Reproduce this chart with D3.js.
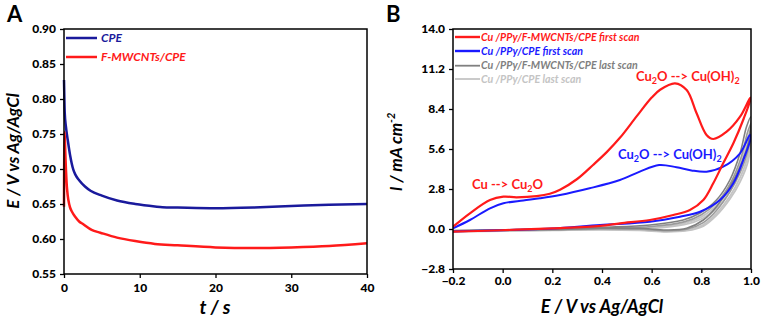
<!DOCTYPE html>
<html><head><meta charset="utf-8">
<script src="https://cdn.jsdelivr.net/npm/d3@7"></script>
<style>
body{margin:0;background:#fff}
svg text{font-family:Lato,"Open Sans",sans-serif}
</style></head><body>
<svg id="c" width="761" height="322"></svg>
<script>
// ---------- Panel A data ----------
const aTime = [0,0.05,0.1,0.26,0.5,0.8,1.23,1.5,2,2.77,3.5,5,7,9.4,12,13,15,20,25,30,35,40];
const aCPE =  [0.827,0.80,0.78,0.76,0.741,0.72,0.699,0.692,0.684,0.675,0.669,0.662,0.655,0.650,0.6465,0.6455,0.645,0.644,0.645,0.647,0.649,0.650];
const fTime = [0,0.03,0.08,0.15,0.26,0.4,0.57,0.8,1.0,1.45,2,2.55,3.65,4.8,7,9.4,12,15,20,25,30,35,40];
const aFMW =  [0.646,0.72,0.753,0.73,0.699,0.672,0.656,0.645,0.640,0.632,0.625,0.621,0.613,0.609,0.602,0.597,0.593,0.591,0.588,0.587,0.588,0.590,0.594];
const aXTicks = [0,10,20,30,40];
const aYTicks = [0.55,0.60,0.65,0.70,0.75,0.80,0.85,0.90];
const aLegend = ["CPE","F-MWCNTs/CPE"];

// ---------- Panel B data (E in V, I in mA cm-2) ----------
const redFirst = [[-0.2,-0.19],[-0.1,-0.14],[0.056,-0.05],[0.2,0.05],[0.392,0.22],[0.473,0.4],[0.593,0.63],[0.687,0.98],[0.754,1.33],[0.808,2.03],[0.848,3.2],[0.888,4.6],[0.929,6.0],[0.97,7.7],[1.0,9.2],
  [0.996,9.15],[0.956,7.86],[0.902,6.81],[0.848,6.3],[0.821,6.58],[0.781,8.1],[0.741,9.73],[0.694,10.2],[0.634,9.75],[0.6,9.2],[0.54,7.9],[0.473,6.4],[0.42,5.4],[0.365,4.5],[0.3,3.5],[0.231,2.75],[0.19,2.47],[0.137,2.3],[0.056,2.22],[0.003,2.26],[-0.051,2.03],[-0.132,1.1],[-0.2,0.16]];
const blueFirst = [[-0.2,-0.17],[-0.1,-0.13],[0.056,-0.06],[0.2,0.03],[0.392,0.28],[0.593,0.51],[0.714,0.86],[0.795,1.21],[0.875,2.03],[0.929,3.2],[0.969,4.83],[1.0,6.5],
  [0.996,6.58],[0.956,5.3],[0.888,4.36],[0.821,4.01],[0.76,4.1],[0.7,4.32],[0.63,4.48],[0.55,4.0],[0.472,3.43],[0.35,2.85],[0.231,2.38],[0.15,2.15],[0.083,2.0],[0.003,1.8],[-0.051,1.45],[-0.132,0.63],[-0.2,0.05]];
const grayLast1 = [[-0.2,-0.12],[0.0,-0.08],[0.2,-0.04],[0.392,0.05],[0.55,0.05],[0.66,-0.07],[0.741,0.05],[0.808,0.63],[0.861,1.56],[0.915,2.96],[0.956,4.36],[0.989,6.0],[1.0,7.86],
  [0.982,7.16],[0.956,5.3],[0.915,3.43],[0.861,2.03],[0.793,1.1],[0.727,0.63],[0.593,0.28],[0.4,0.12],[0.2,0.0],[0.0,-0.06],[-0.2,-0.1]];
const grayLast2 = [[-0.2,-0.14],[0.0,-0.1],[0.2,-0.06],[0.392,0.0],[0.55,-0.02],[0.66,-0.12],[0.741,-0.02],[0.808,0.45],[0.861,1.3],[0.915,2.6],[0.956,3.95],[0.989,5.6],[1.0,7.4],
  [0.985,6.7],[0.96,5.0],[0.92,3.3],[0.87,2.0],[0.8,1.0],[0.73,0.5],[0.6,0.18],[0.4,0.06],[0.2,-0.03],[0.0,-0.08],[-0.2,-0.12]];
const lightLast1 = [[-0.2,-0.16],[0.0,-0.12],[0.2,-0.08],[0.392,-0.03],[0.55,-0.06],[0.66,-0.16],[0.741,-0.08],[0.808,0.3],[0.861,1.1],[0.915,2.3],[0.956,3.6],[0.989,5.2],[1.0,7.0],
  [0.985,6.3],[0.96,4.7],[0.92,3.0],[0.87,1.8],[0.8,0.85],[0.73,0.4],[0.6,0.1],[0.4,0.0],[0.2,-0.05],[0.0,-0.1],[-0.2,-0.14]];
const lightLast2 = [[-0.2,-0.18],[0.0,-0.14],[0.2,-0.1],[0.392,-0.06],[0.55,-0.1],[0.66,-0.2],[0.741,-0.12],[0.808,0.2],[0.861,0.95],[0.915,2.1],[0.956,3.3],[0.989,4.8],[1.0,6.6],
  [0.985,5.9],[0.96,4.4],[0.92,2.8],[0.87,1.6],[0.8,0.7],[0.73,0.3],[0.6,0.04],[0.4,-0.04],[0.2,-0.08],[0.0,-0.12],[-0.2,-0.16]];
const bXTicks = [-0.2,0.0,0.2,0.4,0.6,0.8,1.0];
const bYTicks = [-2.8,0.0,2.8,5.6,8.4,11.2,14.0];
const bLegend = ["Cu /PPy/F-MWCNTs/CPE first scan","Cu /PPy/CPE first scan","Cu /PPy/F-MWCNTs/CPE last scan","Cu /PPy/CPE last scan"];

const svg = d3.select("#c");
const colA = ["#1a1a9c","#ff1a1a"];
const colB = ["#ff1a1a","#1a1aff","#808080","#c4c4c4"];

function frame(g, x, y, xt, yt, xfmt, yfmt, tickY){
  const [x0,x1] = x.range(), [y0,y1] = y.range();
  g.append("g").attr("transform",`translate(0,${y0})`)
    .call(d3.axisBottom(x).tickValues(xt).tickFormat(xfmt).tickSize(4).tickSizeOuter(0))
    .call(s=>{s.select(".domain").remove();s.selectAll("line").attr("stroke","#000").attr("stroke-width",1.3);
      s.selectAll("text").attr("font-size",12).attr("font-weight",900).attr("fill","#000").attr("dy",tickY);});
  g.append("g").attr("transform",`translate(${x0},0)`)
    .call(d3.axisLeft(y).tickValues(yt).tickFormat(yfmt).tickSize(4).tickSizeOuter(0))
    .call(s=>{s.select(".domain").remove();s.selectAll("line").attr("stroke","#000").attr("stroke-width",1.3);
      s.selectAll("text").attr("font-size",12).attr("font-weight",900).attr("fill","#000").attr("dx",-1);});
  g.append("rect").attr("x",x0).attr("y",y1).attr("width",x1-x0).attr("height",y0-y1)
    .attr("fill","none").attr("stroke","#000").attr("stroke-width",1.5);
}

// ---------- Panel A ----------
const xA = d3.scaleLinear().domain([0,40]).range([64,367]);
const yA = d3.scaleLinear().domain([0.55,0.90]).range([274,29]);
const gA = svg.append("g");
const lineA = d3.line().x(d=>xA(d[0])).y(d=>yA(d[1])).curve(d3.curveMonotoneX);
gA.append("path").datum(aTime.map((t,i)=>[t,aCPE[i]])).attr("d",lineA)
  .attr("fill","none").attr("stroke",colA[0]).attr("stroke-width",2.5);
gA.append("path").datum(fTime.map((t,i)=>[t,aFMW[i]])).attr("d",d3.line().x(d=>xA(d[0])).y(d=>yA(d[1])).curve(d3.curveCatmullRom))
  .attr("fill","none").attr("stroke",colA[1]).attr("stroke-width",2.5);
frame(gA,xA,yA,aXTicks,aYTicks,d3.format("d"),d3.format(".2f"),"0.9em");
aLegend.forEach((t,i)=>{
  const yy = 38 + i*19;
  gA.append("line").attr("x1",66).attr("x2",97).attr("y1",yy).attr("y2",yy).attr("stroke",colA[i]).attr("stroke-width",2.5);
  gA.append("text").attr("x",101).attr("y",yy+4).text(t).attr("fill",colA[i])
    .attr("font-size",12).attr("font-weight","bold").attr("font-style","italic");
});
gA.append("text").attr("x",215).attr("y",314).attr("text-anchor","middle").text("t / s")
  .attr("font-size",19).attr("font-weight","bold").attr("font-style","italic");
gA.append("text").attr("transform","translate(19,151) rotate(-90)").attr("text-anchor","middle").text("E / V vs Ag/AgCl")
  .attr("font-size",17).attr("font-weight","bold").attr("font-style","italic");
gA.append("text").attr("x",7).attr("y",22).text("A").attr("font-size",22).attr("font-weight","bold").attr("font-family","'Open Sans',sans-serif");

// ---------- Panel B ----------
const xB = d3.scaleLinear().domain([-0.2,1.0]).range([453,751]);
const yB = d3.scaleLinear().domain([-2.8,14.0]).range([269,29]);
const gB = svg.append("g");
const lineB = d3.line().x(d=>xB(d[0])).y(d=>yB(d[1])).curve(d3.curveCatmullRom.alpha(0.5));
const bSeries = [[lightLast2,colB[3],1.8],[lightLast1,colB[3],1.8],[grayLast2,"#9a9a9a",1.6],[grayLast1,colB[2],1.6],[blueFirst,colB[1],2],[redFirst,colB[0],2.2]];
gB.append("clipPath").attr("id","clipB").append("rect").attr("x",453).attr("y",29).attr("width",298).attr("height",240);
bSeries.forEach(s=>{
  gB.append("path").datum(s[0]).attr("d",lineB).attr("clip-path","url(#clipB)")
    .attr("fill","none").attr("stroke",s[1]).attr("stroke-width",s[2]);
});
frame(gB,xB,yB,bXTicks,bYTicks,d3.format(".1f"),d3.format(".1f"),"0.75em");
bLegend.forEach((t,i)=>{
  const yy = [37,51,65.7,79][i];
  gB.append("line").attr("x1",455).attr("x2",480).attr("y1",yy).attr("y2",yy).attr("stroke",colB[i]).attr("stroke-width",i<2?2.4:1.8);
  gB.append("text").attr("x",481).attr("y",yy+3.7).text(t).attr("fill",colB[i])
    .attr("font-size",10.6).attr("font-weight","bold").attr("font-style","italic");
});
function ann(x,y,parts,col){
  const t = gB.append("text").attr("x",x).attr("y",y).attr("fill",col).attr("font-size",13).attr("font-weight","bold");
  parts.forEach(p=>{
    if(p[1]) t.append("tspan").text(p[0]).attr("font-size",9).attr("dy",3);
    else t.append("tspan").text(p[0]).attr("dy",p[2]||0);
  });
}
ann(636,81,[["Cu"],["2",1],["O --> Cu(OH)",0,-3],["2",1]],colB[0]);
ann(618,159,[["Cu"],["2",1],["O --> Cu(OH)",0,-3],["2",1]],colB[1]);
ann(472,189,[["Cu --> Cu"],["2",1],["O",0,-3]],colB[0]);
gB.append("text").attr("x",602).attr("y",313).attr("text-anchor","middle").text("E / V vs Ag/AgCl")
  .attr("font-size",18).attr("font-weight","bold").attr("font-style","italic");
const yt = gB.append("text").attr("transform","translate(402,152) rotate(-90)").attr("text-anchor","middle")
  .attr("font-size",17).attr("font-weight","bold").attr("font-style","italic");
yt.append("tspan").text("I / mA cm");
yt.append("tspan").text("-2").attr("font-size",11).attr("dy",-7);
gB.append("text").attr("x",386).attr("y",22).text("B").attr("font-size",22).attr("font-weight","bold").attr("font-family","'Open Sans',sans-serif");
</script>
</body></html>
